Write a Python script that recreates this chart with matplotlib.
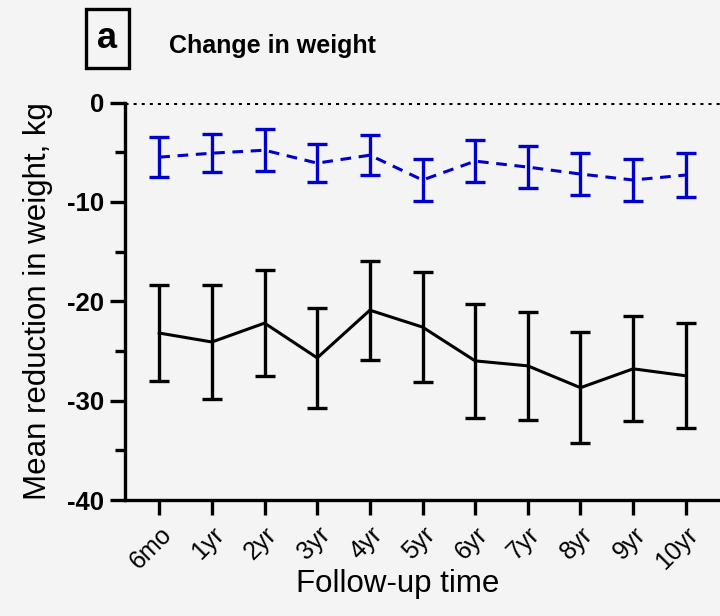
import matplotlib
matplotlib.use("Agg")
import matplotlib.pyplot as plt
from matplotlib.patches import Rectangle
from matplotlib.ticker import MultipleLocator

# follow-up points
labels = ['6mo', '1yr', '2yr', '3yr', '4yr', '5yr', '6yr', '7yr', '8yr', '9yr', '10yr']

# black solid series (mean and half-width of error bar)
black_mean = [-23.2, -24.1, -22.2, -25.7, -20.9, -22.6, -26.0, -26.5, -28.7, -26.8, -27.5]
black_err = [4.8, 5.7, 5.3, 5.0, 5.0, 5.5, 5.7, 5.4, 5.6, 5.3, 5.3]

# blue dashed series
blue_mean = [-5.5, -5.1, -4.8, -6.1, -5.3, -7.8, -5.9, -6.5, -7.2, -7.8, -7.3]
blue_err = [2.0, 1.9, 2.1, 1.9, 2.0, 2.1, 2.1, 2.1, 2.1, 2.1, 2.2]

plt.rcParams['font.family'] = ['Liberation Sans', 'DejaVu Sans']
plt.rcParams['axes.unicode_minus'] = False
bg = '#f4f4f4'

fig = plt.figure(figsize=(7.2, 6.16), dpi=100, facecolor=bg)
ax = fig.add_axes([124.5 / 720, 1 - 500 / 616, 1 - 124.5 / 720, (500 - 102.5) / 616])
ax.set_facecolor(bg)

x = list(range(len(labels)))
ax.errorbar(x, black_mean, yerr=black_err, color='black', lw=2.2, capsize=7,
            capthick=2.4, elinewidth=2.4)
ax.errorbar(x, blue_mean, yerr=blue_err, color='#0000cc', lw=2.2, capsize=7,
            capthick=2.4, elinewidth=2.4, ls='--', dashes=(3.5, 2.5))
ax.axhline(0, color='black', ls=':', lw=2.2)

ax.set_ylim(-40, 0)
ax.set_xlim(-0.66, 10.65)
ax.set_xticks(x)
ax.set_xticklabels(labels, rotation=45, ha='right', rotation_mode='anchor', fontsize=18)
ax.yaxis.set_major_locator(MultipleLocator(10))
ax.yaxis.set_minor_locator(MultipleLocator(5))
for t in ax.get_yticklabels():
    t.set_fontweight('bold')
    t.set_fontsize(18.5)

for s in ['top', 'right']:
    ax.spines[s].set_visible(False)
for s in ['left', 'bottom']:
    ax.spines[s].set_linewidth(2.4)
ax.tick_params(axis='both', which='major', length=11, width=2.4, direction='out')
ax.tick_params(axis='y', which='minor', length=7, width=2.4)
ax.tick_params(axis='x', pad=5)

ax.set_ylabel('Mean reduction in weight, kg', fontsize=22.5, labelpad=10)
ax.set_xlabel('Follow-up time', fontsize=22.5, labelpad=0)
ax.xaxis.label.set_va('center')
ax.xaxis.set_label_coords((398 - 124.5) / 595.5, (500 - 584) / 397.5)

# panel label and title
fig.patches.append(Rectangle((86 / 720, 1 - 68 / 616), 43 / 720, 59 / 616,
                             transform=fig.transFigure, fill=False, lw=2.4, ec='black'))
fig.text(107.5 / 720, 1 - 39 / 616, 'a', fontsize=26, fontweight='bold', ha='center', va='center')
fig.text(169 / 720, 1 - 46 / 616, 'Change in weight', fontsize=18, fontweight='bold', va='center')

fig.savefig('out.png', dpi=100, facecolor=bg)
